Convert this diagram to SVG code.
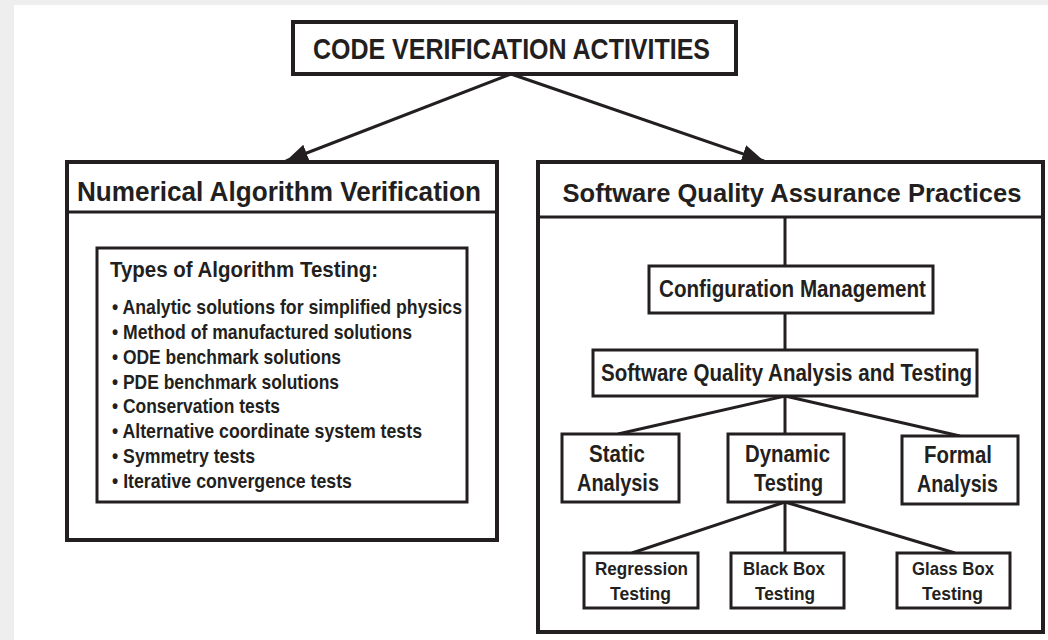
<svg xmlns="http://www.w3.org/2000/svg" width="1048" height="640" viewBox="0 0 1048 640">
  <style>
    .t { font-family: "Liberation Sans", Arial, sans-serif; font-weight: bold; fill: #231f20; }
    .box { fill: #ffffff; stroke: #231f20; }
    .outer { stroke-width: 4; }
    .inner { stroke-width: 3; }
    .link { stroke: #231f20; stroke-width: 3; fill: none; }
  </style>
  <defs>
    <marker id="arrow" markerUnits="userSpaceOnUse" markerWidth="26" markerHeight="20" refX="22" refY="9" orient="auto">
      <path d="M0,0 L22,9 L0,18 Z" fill="#231f20"/>
    </marker>
  </defs>

  <!-- page -->
  <rect x="0" y="0" width="1048" height="640" fill="#eeeeee"/>
  <rect x="14" y="5" width="1034" height="635" fill="#ffffff"/>

  <g id="code-verification">
    <rect class="box outer" x="293" y="22" width="443" height="52"/>
    <text class="t" x="511.5" y="59" font-size="30" text-anchor="middle" textLength="397" lengthAdjust="spacingAndGlyphs">CODE VERIFICATION ACTIVITIES</text>
  </g>

  <g id="numerical-algorithm-verification">
    <rect class="box outer" x="67" y="162" width="430" height="378"/>
    <line class="link" x1="67" y1="212" x2="497" y2="212" stroke-width="4"/>
    <text class="t" x="279" y="201" font-size="27" text-anchor="middle" textLength="404" lengthAdjust="spacingAndGlyphs">Numerical Algorithm Verification</text>
  </g>

  <g id="software-quality-assurance">
    <rect class="box outer" x="538" y="162" width="505" height="470"/>
    <line class="link" x1="538" y1="217" x2="1043" y2="217" stroke-width="4"/>
    <text class="t" x="792" y="202" font-size="26" text-anchor="middle" textLength="459" lengthAdjust="spacingAndGlyphs">Software Quality Assurance Practices</text>
  </g>

  <!-- connectors -->
  <g id="connectors">
    <line class="link" x1="511" y1="74" x2="286" y2="161" marker-end="url(#arrow)"/>
    <line class="link" x1="511" y1="74" x2="764" y2="161" marker-end="url(#arrow)"/>
    <line class="link" x1="785" y1="217" x2="785" y2="266"/>
    <line class="link" x1="785" y1="313" x2="785" y2="350"/>
    <line class="link" x1="785" y1="396" x2="618" y2="434"/>
    <line class="link" x1="785" y1="396" x2="785" y2="434"/>
    <line class="link" x1="785" y1="396" x2="960" y2="436"/>
    <line class="link" x1="785" y1="502" x2="632" y2="553"/>
    <line class="link" x1="785" y1="502" x2="785" y2="553"/>
    <line class="link" x1="785" y1="502" x2="955" y2="553"/>
  </g>

  <g id="algorithm-testing-types">
    <rect class="box inner" x="97" y="248" width="370" height="254"/>
    <text class="t" x="110" y="277" font-size="22.5" textLength="268" lengthAdjust="spacingAndGlyphs">Types of Algorithm Testing:</text>
    <text class="t" x="112" y="314" font-size="20.5" textLength="350" lengthAdjust="spacingAndGlyphs">• Analytic solutions for simplified physics</text>
    <text class="t" x="112" y="339" font-size="20.5" textLength="300" lengthAdjust="spacingAndGlyphs">• Method of manufactured solutions</text>
    <text class="t" x="112" y="364" font-size="20.5" textLength="229" lengthAdjust="spacingAndGlyphs">• ODE benchmark solutions</text>
    <text class="t" x="112" y="389" font-size="20.5" textLength="227" lengthAdjust="spacingAndGlyphs">• PDE benchmark solutions</text>
    <text class="t" x="112" y="413" font-size="20.5" textLength="168" lengthAdjust="spacingAndGlyphs">• Conservation tests</text>
    <text class="t" x="112" y="438" font-size="20.5" textLength="310" lengthAdjust="spacingAndGlyphs">• Alternative coordinate system tests</text>
    <text class="t" x="112" y="463" font-size="20.5" textLength="143" lengthAdjust="spacingAndGlyphs">• Symmetry tests</text>
    <text class="t" x="112" y="488" font-size="20.5" textLength="240" lengthAdjust="spacingAndGlyphs">• Iterative convergence tests</text>
  </g>

  <g id="configuration-management">
    <rect class="box inner" x="649" y="266" width="284" height="47"/>
    <text class="t" x="792.5" y="297" font-size="24" text-anchor="middle" textLength="267" lengthAdjust="spacingAndGlyphs">Configuration Management</text>
  </g>

  <g id="quality-analysis-testing">
    <rect class="box inner" x="593" y="350" width="384" height="46"/>
    <text class="t" x="786.5" y="381" font-size="24" text-anchor="middle" textLength="371" lengthAdjust="spacingAndGlyphs">Software Quality Analysis and Testing</text>
  </g>

  <g id="static-analysis">
    <rect class="box inner" x="562" y="434" width="117" height="68"/>
    <text class="t" x="617" y="462" font-size="24" text-anchor="middle" textLength="56" lengthAdjust="spacingAndGlyphs">Static</text>
    <text class="t" x="618" y="491" font-size="24" text-anchor="middle" textLength="82" lengthAdjust="spacingAndGlyphs">Analysis</text>
  </g>

  <g id="dynamic-testing">
    <rect class="box inner" x="728" y="434" width="116" height="68"/>
    <text class="t" x="787.5" y="462" font-size="24" text-anchor="middle" textLength="85" lengthAdjust="spacingAndGlyphs">Dynamic</text>
    <text class="t" x="788.5" y="491" font-size="24" text-anchor="middle" textLength="69" lengthAdjust="spacingAndGlyphs">Testing</text>
  </g>

  <g id="formal-analysis">
    <rect class="box inner" x="902" y="436" width="116" height="68"/>
    <text class="t" x="958" y="463" font-size="24" text-anchor="middle" textLength="68" lengthAdjust="spacingAndGlyphs">Formal</text>
    <text class="t" x="957.5" y="492" font-size="24" text-anchor="middle" textLength="81" lengthAdjust="spacingAndGlyphs">Analysis</text>
  </g>

  <g id="regression-testing">
    <rect class="box inner" x="584" y="553" width="114" height="55"/>
    <text class="t" x="641.5" y="575" font-size="19" text-anchor="middle" textLength="93" lengthAdjust="spacingAndGlyphs">Regression</text>
    <text class="t" x="640.5" y="600" font-size="19" text-anchor="middle" textLength="61" lengthAdjust="spacingAndGlyphs">Testing</text>
  </g>

  <g id="black-box-testing">
    <rect class="box inner" x="731" y="553" width="113" height="55"/>
    <text class="t" x="784" y="575" font-size="19" text-anchor="middle" textLength="82" lengthAdjust="spacingAndGlyphs">Black Box</text>
    <text class="t" x="785" y="600" font-size="19" text-anchor="middle" textLength="60" lengthAdjust="spacingAndGlyphs">Testing</text>
  </g>

  <g id="glass-box-testing">
    <rect class="box inner" x="897" y="553" width="113" height="55"/>
    <text class="t" x="953" y="575" font-size="19" text-anchor="middle" textLength="82" lengthAdjust="spacingAndGlyphs">Glass Box</text>
    <text class="t" x="952.5" y="600" font-size="19" text-anchor="middle" textLength="61" lengthAdjust="spacingAndGlyphs">Testing</text>
  </g>
</svg>
